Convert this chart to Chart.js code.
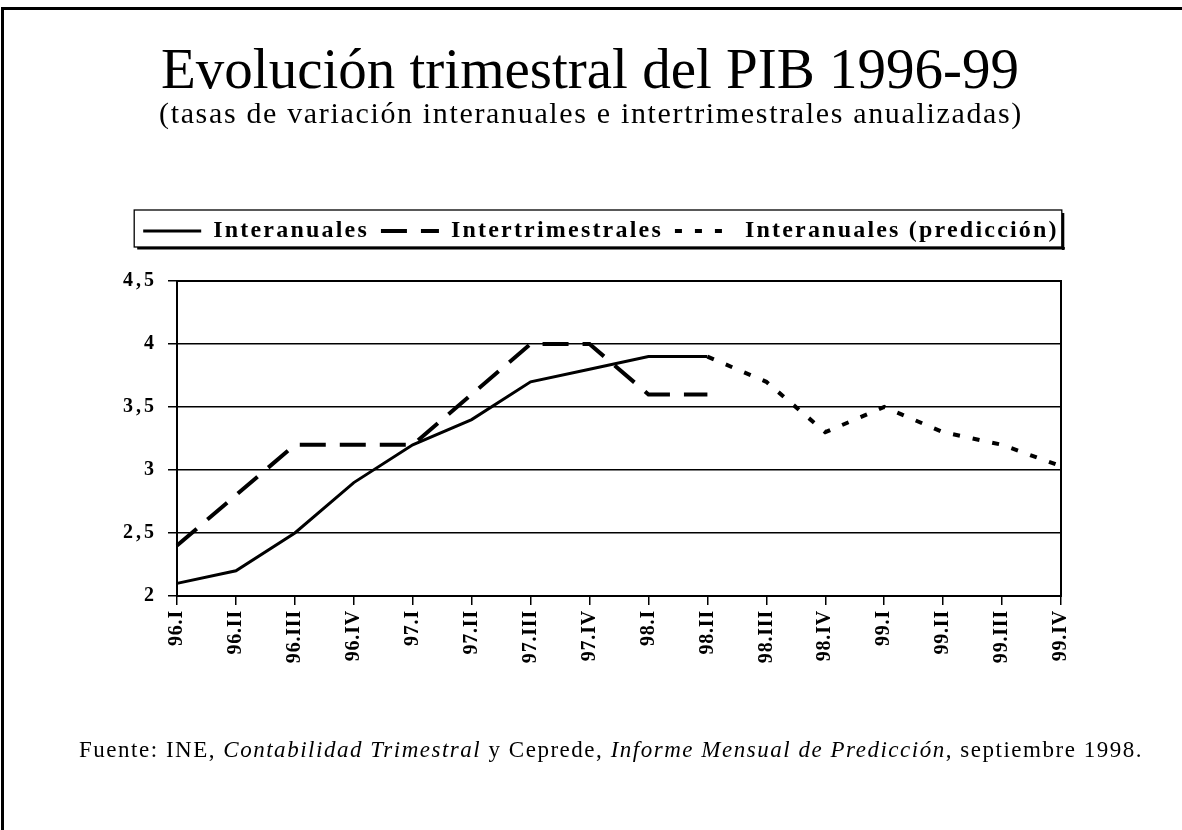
<!DOCTYPE html>
<html><head><meta charset="utf-8">
<script src="https://cdn.jsdelivr.net/npm/chart.js@4.4.0/dist/chart.umd.min.js"></script>
<style>
html,body{margin:0;padding:0;background:#fff;}
body{width:1182px;height:830px;position:relative;overflow:hidden;font-family:'Liberation Serif','Times New Roman',serif;}
#frame{position:absolute;left:1px;top:7px;width:1400px;height:1000px;border-left:3px solid #000;border-top:3px solid #000;}
#wrap{position:absolute;left:0;top:0;width:1182px;height:830px;}
.txt{position:absolute;white-space:nowrap;color:#000;line-height:1;}
#title{font-size:57px;top:40px;}
#subtitle{font-size:30px;top:98px;}
#note{font-size:23px;top:738px;}
</style></head>
<body>
<div id="frame"></div>
<div id="wrap"><canvas id="c" width="1182" height="830"></canvas></div>
<span class="txt" id="title">Evolución trimestral del PIB 1996-99</span>
<span class="txt" id="subtitle">(tasas de variación interanuales e intertrimestrales anualizadas)</span>
<span class="txt" id="note">Fuente: INE, <i>Contabilidad Trimestral</i> y Ceprede, <i>Informe Mensual de Predicción</i>, septiembre 1998.</span>
<script>
// ---- data ----
const categories = ['96.I','96.II','96.III','96.IV','97.I','97.II','97.III','97.IV','98.I','98.II','98.III','98.IV','99.I','99.II','99.III','99.IV'];
const interanuales = [2.1,2.2,2.5,2.9,3.2,3.4,3.7,3.8,3.9,3.9,null,null,null,null,null,null];
const intertrimestrales = [2.4,2.8,3.2,3.2,3.2,3.6,4.0,4.0,3.6,3.6,null,null,null,null,null,null];
const prediccion = [null,null,null,null,null,null,null,null,null,3.9,3.7,3.3,3.5,3.3,3.2,3.03];
const seriesNames = ['Interanuales','Intertrimestrales','Interanuales (predicción)'];
const yMin = 2, yMax = 4.5, yStep = 0.5;
const yTickLabels = {2:'2',2.5:'2,5',3:'3',3.5:'3,5',4:'4',4.5:'4,5'};

const FONT = "'Liberation Serif','Times New Roman',serif";
Chart.defaults.font.family = FONT;
Chart.defaults.color = '#000';

function fitText(id, center, target){
  const el = document.getElementById(id);
  el.style.letterSpacing = '0px';
  const w = el.getBoundingClientRect().width;
  const n = [...el.textContent].length;
  el.style.letterSpacing = ((target - w) / n) + 'px';
  el.style.left = (center - target / 2) + 'px';
}
function layoutTexts(){
  fitText('title', 590, 858);
  fitText('subtitle', 591, 864);
  fitText('note', 611, 1064);
}

const LEGEND_SP = '2.2px';
const AXIS_SP = { x: '0.8px', y: '3px' };
const spacingPlugin = {
  id: 'spacing',
  beforeLayout(chart){ chart.ctx.letterSpacing = LEGEND_SP; },
  beforeDraw(chart){
    chart.ctx.letterSpacing = LEGEND_SP;
    for (const id of ['x','y']) {
      const s = chart.scales[id];
      if (s && !s._spPatched) {
        const orig = s.drawLabels;
        s.drawLabels = function(area){
          const c = this.ctx, prev = c.letterSpacing;
          c.letterSpacing = AXIS_SP[id];
          orig.call(this, area);
          c.letterSpacing = prev;
        };
        s._spPatched = true;
      }
    }
  }
};
const frameBox = {
  id: 'frameBox',
  beforeDatasetsDraw(chart){
    const {ctx, chartArea:a} = chart;
    ctx.save();
    ctx.strokeStyle = '#000'; ctx.lineWidth = 2;
    ctx.strokeRect(a.left, a.top, a.right - a.left, a.bottom - a.top);
    ctx.restore();
  },
  afterDraw(chart){
    const lg = chart.legend;
    if (!lg || !lg.legendHitBoxes || !lg.legendHitBoxes.length) return;
    const hb = lg.legendHitBoxes;
    const last = hb[hb.length - 1];
    const c = hb[0].top + hb[0].height / 2;
    const l = hb[0].left - 9, r = last.left + last.width + 3;
    const t = c - 21, b = c + 16;
    const ctx = chart.ctx;
    ctx.save();
    ctx.strokeStyle = '#000'; ctx.lineWidth = 1.3;
    ctx.strokeRect(l, t, r - l, b - t);
    ctx.fillStyle = '#000';
    ctx.fillRect(l + 3, b, r - l, 2.5);
    ctx.fillRect(r, t + 3, 2.5, b - t);
    ctx.restore();
  }
};

const ctx = document.getElementById('c').getContext('2d');
new Chart(ctx, {
  type: 'line',
  data: {
    labels: categories,
    datasets: [
      { label: seriesNames[0], data: interanuales, borderColor:'#000', backgroundColor:'#000', borderWidth:3, pointRadius:0, pointStyle:'line', tension:0, spanGaps:false },
      { label: seriesNames[1], data: intertrimestrales, borderColor:'#000', backgroundColor:'#000', borderWidth:4, borderDash:[26,14], pointRadius:0, pointStyle:'line', tension:0, spanGaps:false },
      { label: seriesNames[2], data: prediccion, borderColor:'#000', backgroundColor:'#000', borderWidth:4, borderDash:[7,13], pointRadius:0, pointStyle:'line', tension:0, spanGaps:false }
    ]
  },
  options: {
    responsive: false,
    animation: false,
    devicePixelRatio: 1,
    layout: { padding: { left: 20, right: 0, top: 207, bottom: 0 } },
    plugins: {
      legend: {
        position: 'top', align: 'center',
        labels: {
          usePointStyle: true, pointStyleWidth: 58, padding: 12, color: '#000',
          font: { family: FONT, size: 24, weight: 'bold' },
          generateLabels(chart){
            const items = Chart.defaults.plugins.legend.labels.generateLabels(chart);
            items.forEach(it => {
              const ds = chart.data.datasets[it.datasetIndex];
              it.pointStyle = 'line';
              it.lineDash = ds.borderDash || [];
              it.lineWidth = ds.borderWidth;
              it.strokeStyle = '#000';
              it.fillStyle = '#000';
              it.lineCap = 'butt';
            });
            return items;
          }
        }
      },
      subtitle: { display: true, text: '', position: 'top', weight: 1, font: { size: 10 }, padding: { top: 16, bottom: 0 } },
      title: { display: false },
      tooltip: { enabled: false }
    },
    scales: {
      x: {
        ticks: { autoSkip: false, maxRotation: 90, minRotation: 90, color: '#000', padding: 5,
                 font: { family: FONT, size: 20, weight: 'bold' } },
        grid: { drawOnChartArea: false, color: '#000', lineWidth: 1.5, tickLength: 9 },
        border: { display: true, color: '#000', width: 2 },
        afterFit(s){ s.height = 234; }
      },
      y: {
        min: yMin, max: yMax,
        ticks: { stepSize: yStep, color: '#000', padding: 11, font: { family: FONT, size: 20, weight: 'bold' },
                 callback: v => yTickLabels[v] !== undefined ? yTickLabels[v] : String(v).replace('.', ',') },
        grid: { color: '#000', lineWidth: 1.5, tickLength: 9 },
        border: { display: true, color: '#000', width: 2 },
        afterFit(s){ s.width = 157; }
      },
      y2: {
        position: 'right', display: true,
        grid: { display: false, drawOnChartArea: false },
        ticks: { display: false },
        border: { display: false },
        afterFit(s){ s.width = 121; }
      }
    }
  },
  plugins: [spacingPlugin, frameBox]
});

if (document.fonts && document.fonts.ready) { document.fonts.ready.then(layoutTexts); }
layoutTexts();
</script>
</body></html>
